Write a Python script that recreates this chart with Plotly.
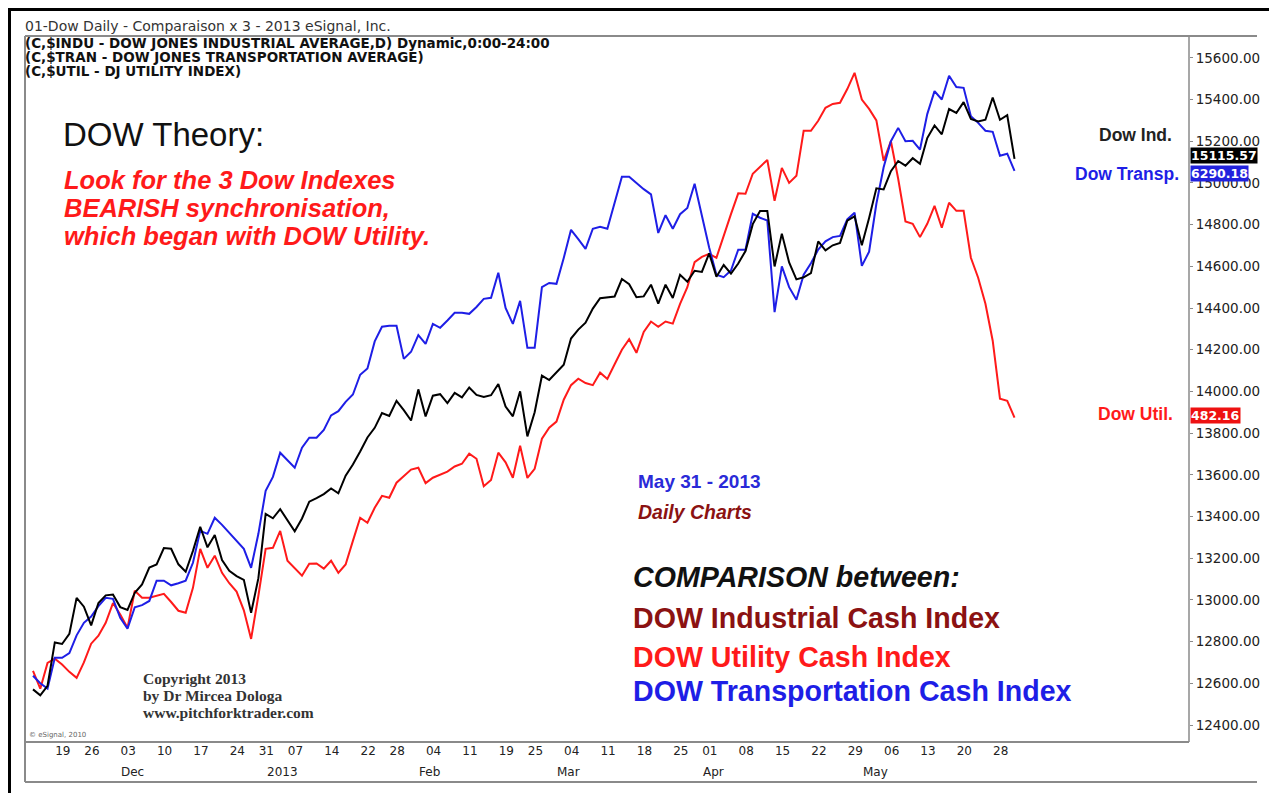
import plotly.graph_objects as go
import pandas as pd

# ---------------- data ----------------
holidays = ["2012-11-22", "2012-12-25", "2013-01-01", "2013-01-21",
            "2013-02-18", "2013-03-29", "2013-05-27"]
dates = [d.strftime("%Y-%m-%d") for d in pd.bdate_range("2012-11-14", "2013-05-31")
         if d.strftime("%Y-%m-%d") not in holidays]

# Dow Jones Industrial Average (daily close)
dow_ind = [12570.95, 12542.38, 12588.31, 12795.96, 12788.51, 12836.89, 13009.68, 12967.37, 12878.13, 12985.11,
           13021.82, 13025.58, 12965.60, 12951.78, 13034.49, 13074.04, 13155.13, 13169.88, 13248.44, 13245.45,
           13170.72, 13135.01, 13235.39, 13350.96, 13251.97, 13311.72, 13190.84, 13139.08, 13114.59, 13096.31,
           12938.11, 13104.14, 13412.55, 13391.36, 13435.21, 13384.29, 13328.85, 13390.51, 13471.22, 13488.43,
           13507.32, 13534.89, 13511.23, 13596.02, 13649.70, 13712.21, 13779.33, 13825.33, 13895.98, 13881.93,
           13954.42, 13910.42, 13860.58, 14009.79, 13880.08, 13979.30, 13986.52, 13944.05, 13992.97, 13971.24,
           14018.70, 13982.91, 13973.39, 13981.76, 14035.67, 13927.54, 13880.62, 14000.57, 13784.17, 13900.13,
           14075.37, 14054.49, 14089.66, 14127.82, 14253.77, 14296.24, 14329.49, 14397.07, 14447.29, 14450.06,
           14455.28, 14539.14, 14514.11, 14452.06, 14455.82, 14511.73, 14421.49, 14512.03, 14447.75, 14559.65,
           14526.16, 14578.54, 14572.85, 14662.01, 14550.35, 14606.11, 14565.25, 14613.48, 14673.46, 14802.24,
           14865.14, 14865.06, 14599.20, 14756.78, 14618.59, 14537.14, 14547.51, 14567.17, 14719.46, 14676.30,
           14700.80, 14712.55, 14818.75, 14839.80, 14700.95, 14831.58, 14973.96, 14968.89, 15056.20, 15105.12,
           15082.62, 15118.49, 15091.68, 15215.25, 15275.69, 15233.22, 15354.40, 15335.28, 15387.58, 15307.17,
           15294.50, 15303.10, 15409.39, 15302.80, 15324.53, 15115.57]

# Dow Transportation, comparison-scaled onto the Industrial axis
dow_transp = [12636, 12600, 12575, 12722, 12722, 12745, 12830, 12890, 12920, 12970,
              13010, 13005, 12914, 12862, 12965, 12975, 12995, 13092, 13092, 13070,
              13080, 13092, 13178, 13331, 13317, 13394, 13360, 13320, 13280, 13245,
              13154, 13317, 13523, 13590, 13706, 13670, 13634, 13730, 13778, 13778,
              13815, 13885, 13905, 13950, 13985, 14080, 14110, 14240, 14310, 14315,
              14315, 14156, 14190, 14270, 14228, 14324, 14305, 14340, 14377, 14377,
              14372, 14405, 14444, 14449, 14569, 14400, 14324, 14434, 14209, 14209,
              14500, 14520, 14516, 14640, 14775, 14730, 14684, 14780, 14790, 14780,
              14905, 15030, 15030, 15000, 14970, 14945, 14760, 14845, 14780, 14850,
              14880, 14996, 14842, 14690, 14560, 14548, 14580, 14680, 14680, 14852,
              14833, 14820, 14380, 14600, 14500, 14440, 14560, 14615, 14680, 14720,
              14740, 14746, 14825, 14857, 14602, 14670, 14900, 15075, 15200, 15264,
              15200, 15202, 15160, 15330, 15440, 15400, 15514, 15460, 15456, 15320,
              15288, 15250, 15245, 15130, 15140, 15058]

# Dow Utility, comparison-scaled onto the Industrial axis
dow_util = [12660, 12574, 12698, 12718, 12690, 12655, 12626, 12700, 12790, 12828,
            12890, 12985, 12930, 12866, 13044, 13010, 13010, 13020, 13029, 12990,
            12948, 12938, 13058, 13245, 13154, 13212, 13130, 13080, 13040, 12950,
            12813, 13020, 13245, 13250, 13331, 13188, 13154, 13116, 13173, 13175,
            13150, 13188, 13130, 13170, 13283, 13394, 13370, 13442, 13499, 13490,
            13562, 13595, 13625, 13634, 13560, 13586, 13600, 13615, 13640, 13653,
            13701, 13677, 13545, 13575, 13706, 13660, 13586, 13739, 13585, 13629,
            13773, 13826, 13855, 13960, 14030, 14061, 14040, 14030, 14090, 14060,
            14130, 14200, 14250, 14185, 14285, 14335, 14310, 14335, 14325, 14420,
            14500, 14620, 14645, 14660, 14641, 14750, 14850, 14950, 14948, 15044,
            15075, 15110, 14914, 15072, 15000, 15034, 15250, 15250, 15298, 15360,
            15379, 15384, 15450, 15528, 15400, 15355, 15300, 15106, 15200, 15020,
            14815, 14804, 14740, 14804, 14890, 14785, 14905, 14866, 14866, 14641,
            14545, 14420, 14243, 13965, 13955, 13874]

last_values = {"ind": "15115.57", "transp": "6290.18", "util": "482.16"}

tick_dates = ["2012-11-19", "2012-11-26", "2012-12-03", "2012-12-10", "2012-12-17", "2012-12-24",
              "2012-12-31", "2013-01-07", "2013-01-14", "2013-01-22", "2013-01-28", "2013-02-04",
              "2013-02-11", "2013-02-19", "2013-02-25", "2013-03-04", "2013-03-11", "2013-03-18",
              "2013-03-25", "2013-04-01", "2013-04-08", "2013-04-15", "2013-04-22", "2013-04-29",
              "2013-05-06", "2013-05-13", "2013-05-20", "2013-05-28"]
tick_text = ["19", "26", "03", "10", "17", "24", "31", "07", "14", "22", "28", "04", "11", "19",
             "25", "04", "11", "18", "25", "01", "08", "15", "22", "29", "06", "13", "20", "28"]
month_dates = ["2012-12-03", "2013-01-02", "2013-02-01", "2013-03-01", "2013-04-01", "2013-05-01"]
month_text = ["Dec", "2013", "Feb", "Mar", "Apr", "May"]
y_ticks = list(range(12400, 15601, 200))

assert len(dates) == len(dow_ind) == len(dow_transp) == len(dow_util)

# ---------------- layout geometry (screen pixels) ----------------
OFF = 8                      # the page body margin offsets the figure
W, H = 1277 - OFF, 793 - OFF
L, R, T, B = 25, 1189, 36, 742   # plot area in screen pixels


def px(x):
    return (x - L) / (R - L)


def py(y):
    return (B - y) / (B - T)


BLUE = "#1e1ee6"
RED = "#ff1a1a"
DARKRED = "#8b1212"
GRAY = "#8a8a8a"
DV = "DejaVu Sans"
AR = "Arial, Liberation Sans, sans-serif"
SER = "Times New Roman, Liberation Serif, serif"

fig = go.Figure()
fig.add_trace(go.Scatter(x=dates, y=dow_util, mode="lines", name="DOW Utility",
                         line=dict(color=RED, width=2)))
fig.add_trace(go.Scatter(x=dates, y=dow_transp, mode="lines", name="DOW Transportation",
                         line=dict(color=BLUE, width=2)))
fig.add_trace(go.Scatter(x=dates, y=dow_ind, mode="lines", name="DOW Industrial",
                         line=dict(color="black", width=2)))

ann = []


def text(t, x, y, size, color, family=AR, xanchor="left", **kw):
    ann.append(dict(text=t, x=px(x), y=py(y), xref="paper", yref="paper", xanchor=xanchor,
                    yanchor="middle", showarrow=False, font=dict(size=size, color=color, family=family),
                    **kw))


# header
text("01-Dow Daily - Comparaison x 3 - 2013 eSignal, Inc.", 23, 26, 14, "#333333", DV)
text("<b>(C,$INDU - DOW JONES INDUSTRIAL AVERAGE,D) Dynamic,0:00-24:00</b>", 23, 43, 13.5, "#111111", DV)
text("<b>(C,$TRAN - DOW JONES TRANSPORTATION AVERAGE)</b>", 23, 57, 13.5, "#111111", DV)
text("<b>(C,$UTIL - DJ UTILITY INDEX)</b>", 23, 71, 13.5, "#111111", DV)

# commentary
text("DOW Theory:", 61, 134, 33, "#111111")
text("<b><i>Look for the 3 Dow Indexes</i></b>", 62, 180, 25.5, RED)
text("<b><i>BEARISH synchronisation,</i></b>", 62, 208, 25.5, RED)
text("<b><i>which began with DOW Utility.</i></b>", 62, 236, 25.5, RED)

text("<b>May 31 - 2013</b>", 636, 481, 19, "#2a2ad8")
text("<b><i>Daily Charts</i></b>", 636, 512, 19.5, DARKRED)

text("<b><i>COMPARISON between:</i></b>", 631, 577, 28.6, "#111111")
text("<b>DOW Industrial Cash Index</b>", 631, 618, 28.6, DARKRED)
text("<b>DOW Utility Cash Index</b>", 631, 657, 28.6, RED)
text("<b>DOW Transportation Cash Index</b>", 631, 691, 28.6, BLUE)

text("<b>Dow Ind.</b>", 1097, 135, 17.5, "#222222")
text("<b>Dow Transp.</b>", 1073, 174, 17.5, BLUE)
text("<b>Dow Util.</b>", 1096, 414, 17.5, RED)

text("<b>Copyright 2013</b>", 141, 678, 15.5, "#333333", SER)
text("<b>by Dr Mircea Dologa</b>", 141, 695, 15.5, "#333333", SER)
text("<b>www.pitchforktrader.com</b>", 141, 712, 15.5, "#333333", SER)
text("© eSignal, 2010", 27, 735, 7, "#666666", DV)

# last-value boxes on the price scale
for label, yy, bg in [(last_values["ind"], 155, "#000000"),
                      (last_values["transp"], 173, "#2222dd"),
                      (last_values["util"], 416, "#ee1111")]:
    text("<b>" + label + "</b>", 1190, yy, 12.5, "white", DV, bgcolor=bg, borderpad=0)

# month labels under the day numbers
for d, m in zip(month_dates, month_text):
    ann.append(dict(text=m, x=d, y=py(772), xref="x", yref="paper", xanchor="left",
                    yanchor="middle", showarrow=False, xshift=-1,
                    font=dict(size=12, color="#222222", family=DV)))

shapes = [
    # chart frame
    dict(type="line", xref="paper", yref="paper", x0=0, x1=px(1257), y0=1, y1=1,
         line=dict(color=GRAY, width=2)),
    dict(type="line", xref="paper", yref="paper", x0=0, x1=0, y0=1, y1=py(782),
         line=dict(color=GRAY, width=2)),
    dict(type="line", xref="paper", yref="paper", x0=0, x1=px(1257), y0=py(782), y1=py(782),
         line=dict(color=GRAY, width=2)),
    dict(type="line", xref="paper", yref="paper", x0=0, x1=1, y0=0, y1=0,
         line=dict(color=GRAY, width=2)),
    dict(type="line", xref="paper", yref="paper", x0=1, x1=1, y0=0, y1=1,
         line=dict(color=GRAY, width=1.5)),
    # outer black border of the picture
    dict(type="rect", xref="paper", yref="paper", x0=px(9.5), x1=px(1273), y0=py(820), y1=py(9.5),
         line=dict(color="black", width=3)),
]

fig.update_layout(
    width=W, height=H, autosize=False,
    margin=dict(l=L - OFF, r=W - (R - OFF), t=T - OFF, b=H - (B - OFF), pad=0),
    paper_bgcolor="white", plot_bgcolor="white",
    showlegend=False,
    annotations=ann, shapes=shapes,
    xaxis=dict(type="category", range=[-1.1, 159.0], tickmode="array",
               tickvals=tick_dates, ticktext=tick_text, ticks="", showgrid=False,
               zeroline=False, showline=False, ticklabelshift=8,
               tickfont=dict(family=DV, size=12, color="#222222")),
    yaxis=dict(side="right", range=[12318.5, 15704.6], tickmode="array", tickvals=y_ticks,
               tickformat=".2f", ticks="outside", ticklen=3, tickcolor=GRAY, showgrid=False,
               zeroline=False, showline=False,
               tickfont=dict(family=DV, size=13.5, color="#222222")),
)

fig.write_html("out.html")
